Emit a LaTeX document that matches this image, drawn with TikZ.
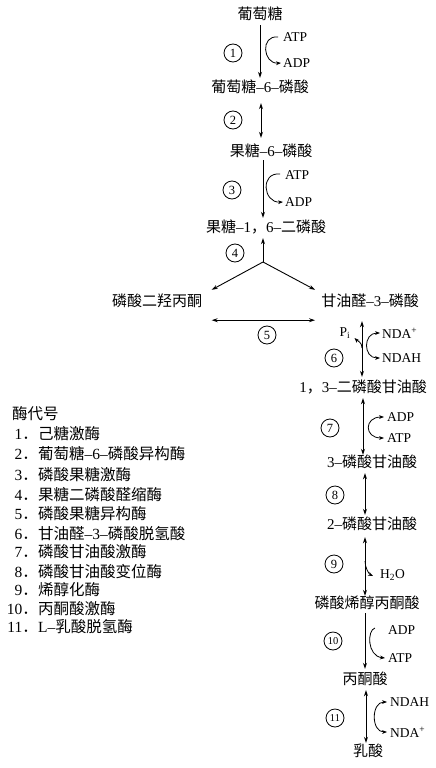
\documentclass[tikz,border=0pt]{standalone}
\usepackage{fontspec}
\setmainfont{Liberation Serif}
\newfontfamily\cjk{Noto Sans CJK SC}
\usetikzlibrary{arrows.meta}
\newcommand\zh[1]{{\cjk #1}}
\begin{document}
\begin{tikzpicture}[x=1pt,y=-1pt,
  chem/.style={inner sep=0pt, text height=11.5pt, text depth=2.5pt, font=\fontsize{15}{18}\selectfont},
  lbl/.style={inner sep=0pt, anchor=west, font=\fontsize{13.5}{15}\selectfont},
  enz/.style={circle, draw, line width=0.8pt, minimum size=18pt, inner sep=0pt, font=\fontsize{12.5}{14}\selectfont},
  enzs/.style={enz, font=\fontsize{10.5}{12}\selectfont},
  rxn/.style={line width=0.9pt, -{Stealth[length=6pt,width=4pt]}},
  rev/.style={line width=0.9pt, {Stealth[length=6pt,width=4pt]}-{Stealth[length=6pt,width=4pt]}},
  cof/.style={line width=0.8pt, -{Stealth[length=5pt,width=3.8pt]}},
  cofrev/.style={line width=0.8pt, {Stealth[length=5pt,width=3.8pt]}-{Stealth[length=5pt,width=3.8pt]}},
  leg/.style={inner sep=0pt, anchor=west, text height=11.5pt, text depth=2.5pt, font=\fontsize{15.5}{18}\selectfont},
  legnum/.style={leg, anchor=east}
]
\useasboundingbox (0,0) rectangle (436,768);

% metabolites
\node[chem] (glc)  at (260,15)  {\zh{葡萄糖}};
\node[chem] (g6p)  at (260,88)  {\zh{葡萄糖}–6–\zh{磷酸}};
\node[chem] (f6p)  at (271,152) {\zh{果糖}–6–\zh{磷酸}};
\node[chem] (f16p) at (266,228) {\zh{果糖}–1\zh{，}6–\zh{二磷酸}};
\node[chem] (dhap) at (157,302) {\zh{磷酸二羟丙酮}};
\node[chem] (g3p)  at (370,302) {\zh{甘油醛}–3–\zh{磷酸}};
\node[chem] (bpg)  at (363,388) {1\zh{，}3–\zh{二磷酸甘油酸}};
\node[chem] (pg3)  at (372,463) {3–\zh{磷酸甘油酸}};
\node[chem] (pg2)  at (372,525) {2–\zh{磷酸甘油酸}};
\node[chem] (pep)  at (367,604) {\zh{磷酸烯醇丙酮酸}};
\node[chem] (pyr)  at (365,680) {\zh{丙酮酸}};
\node[chem] (lac)  at (368,752) {\zh{乳酸}};

% enzyme numbers
\node[enz] (c1) at (233,53)  {1};
\node[enz] (c2) at (233,120) {2};
\node[enz] (c3) at (232,190) {3};
\node[enz] (c4) at (235,253) {4};
\node[enz] (c5) at (267,335) {5};
\node[enz] (c6) at (334,358) {6};
\node[enz] (c7) at (330,428) {7};
\node[enz] (c8) at (335,495) {8};
\node[enz] (c9) at (334,564) {9};
\node[enzs] (c10) at (333,641) {10};
\node[enzs] (c11) at (335,718) {11};

% cofactors
\node[lbl] (atp1) at (283,37) {ATP};
\node[lbl] (adp1) at (283,63) {ADP};
\node[lbl] (atp3) at (285,175) {ATP};
\node[lbl] (adp3) at (285,202) {ADP};
\node[inner sep=0pt, font=\fontsize{13.5}{15}\selectfont] (pi) at (345,333) {P\textsubscript{i}};
\node[lbl] (nad6) at (382,333) {NDA\textsuperscript{+}};
\node[lbl] (nadh6) at (382,358) {NDAH};
\node[lbl] (adp7) at (387,417) {ADP};
\node[lbl] (atp7) at (387,438) {ATP};
\node[lbl] (h2o) at (380,575) {H\textsubscript{2}O};
\node[lbl] (adp10) at (388,630) {ADP};
\node[lbl] (atp10) at (388,658) {ATP};
\node[lbl] (nadh11) at (390,702) {NDAH};
\node[lbl] (nad11) at (390,732) {NDA\textsuperscript{+}};

% main arrows
\draw[rxn, shorten <=3pt, shorten >=3pt] (glc.south -| 260,0) -- (g6p.north -| 260,0);
\draw[rev, shorten <=8pt, shorten >=7pt] (g6p.south -| 261,0) -- (f6p.north -| 261,0);
\draw[rxn, shorten <=1pt, shorten >=3pt] (f6p.south -| 263,0) -- (f16p.north -| 263,0);
\coordinate (j4) at (263,262);
\draw[rxn, shorten >=3pt] (j4) -- (f16p.south -| 263,0);
\draw[rxn] (j4) -- ([xshift=9.5pt,yshift=5pt]dhap.north east);
\draw[rxn] (j4) -- ([xshift=-6pt,yshift=5pt]g3p.north west);
\draw[rev] ([xshift=9.5pt,yshift=-11pt]dhap.south east) -- ([xshift=-6pt,yshift=-11pt]g3p.south west);
\draw[rev, shorten <=12pt, shorten >=4pt] (g3p.south -| 362,0) -- (bpg.north -| 362,0);
\draw[rev, shorten <=3pt, shorten >=1pt] (bpg.south -| 363,0) -- (pg3.north -| 363,0);
\draw[rev, shorten <=3pt, shorten >=3pt] (pg3.south -| 365,0) -- (pg2.north -| 365,0);
\draw[rev, shorten <=5pt, shorten >=1pt] (pg2.south -| 365,0) -- (pep.north -| 365,0);
\draw[rxn, shorten <=2pt, shorten >=4pt] (pep.south -| 365,0) -- (pyr.north -| 365,0);
\draw[rev, shorten <=3pt, shorten >=2pt] (pyr.south -| 366,0) -- (lac.north -| 366,0);

% cofactor curves
\draw[cof] ([xshift=-5pt]atp1.west) .. controls +(-18,-2) and +(-18,1) .. ([xshift=-2pt]adp1.west);
\draw[cof] ([xshift=-5pt,yshift=1pt]atp3.west) .. controls +(-20,-2) and +(-20,1) .. ([xshift=-2pt]adp3.west);
\draw[cofrev] ([xshift=-2pt]nad6.west) .. controls +(-17,0) and +(-17,0) .. ([xshift=-2pt]nadh6.west);
\draw[cofrev] ([xshift=-3pt]adp7.west) .. controls +(-20,0) and +(-20,0) .. ([xshift=-3pt]atp7.west);
\draw[cof] ([xshift=-13pt,yshift=2pt]adp10.west) .. controls +(-8,2) and +(-18,-2) .. ([xshift=-3pt]atp10.west);
\draw[cofrev] ([xshift=-3pt]nadh11.west) .. controls +(-16,0) and +(-16,0) .. ([xshift=-3pt]nad11.west);
\coordinate (p6) at (362,348);
\draw[cof] (p6) .. controls +(0,-6) and +(3,3) .. ([xshift=4pt,yshift=-5pt]pi.east);
\coordinate (p9) at (365,561);
\draw[cof] (p9) .. controls +(0,7) and +(-4,-2) .. ([xshift=-7pt,yshift=-1pt]h2o.west);

% legend
\node[leg] (lt0) at (12,415) {\zh{酶代号}};
\node[legnum] (ln1) at (38,435) {1\zh{．}};
\node[leg] (lt1) at (38,435) {\zh{己糖激酶}};
\node[legnum] (ln2) at (38,455) {2\zh{．}};
\node[leg] (lt2) at (38,455) {\zh{葡萄糖}–6–\zh{磷酸异构酶}};
\node[legnum] (ln3) at (38,476) {3\zh{．}};
\node[leg] (lt3) at (38,476) {\zh{磷酸果糖激酶}};
\node[legnum] (ln4) at (38,496) {4\zh{．}};
\node[leg] (lt4) at (38,496) {\zh{果糖二磷酸醛缩酶}};
\node[legnum] (ln5) at (38,515) {5\zh{．}};
\node[leg] (lt5) at (38,515) {\zh{磷酸果糖异构酶}};
\node[legnum] (ln6) at (38,535) {6\zh{．}};
\node[leg] (lt6) at (38,535) {\zh{甘油醛}–3–\zh{磷酸脱氢酸}};
\node[legnum] (ln7) at (38,553) {7\zh{．}};
\node[leg] (lt7) at (38,553) {\zh{磷酸甘油酸激酶}};
\node[legnum] (ln8) at (38,573) {8\zh{．}};
\node[leg] (lt8) at (38,573) {\zh{磷酸甘油酸变位酶}};
\node[legnum] (ln9) at (38,591) {9\zh{．}};
\node[leg] (lt9) at (38,591) {\zh{烯醇化酶}};
\node[legnum] (ln10) at (38,610) {10\zh{．}};
\node[leg] (lt10) at (38,610) {\zh{丙酮酸激酶}};
\node[legnum] (ln11) at (38,628) {11\zh{．}};
\node[leg] (lt11) at (38,628) {L–\zh{乳酸脱氢酶}};
\end{tikzpicture}
\end{document}
